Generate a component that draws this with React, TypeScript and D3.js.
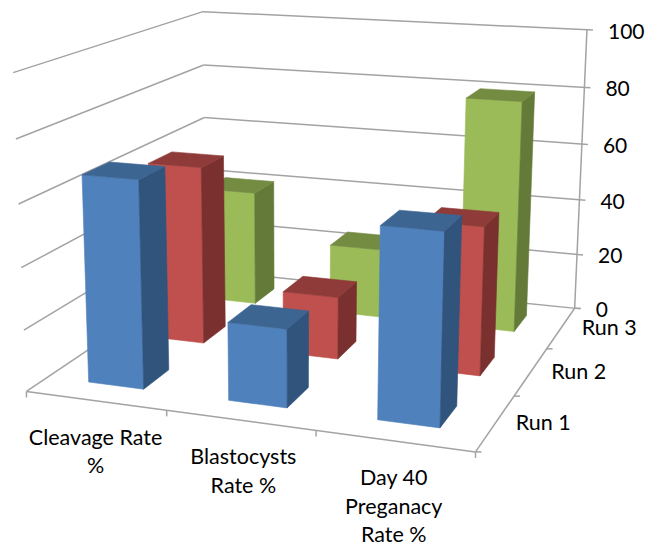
import React from "react";
import * as d3 from "d3";

// Chart content
const categories = [["Cleavage Rate", "%"], ["Blastocysts", "Rate %"], ["Day 40", "Preganacy", "Rate %"]];
const runs = ["Run 1", "Run 2", "Run 3"];
const run1Values = [67, 25, 59.5];
const run2Values = [60.5, 21, 49];
const run3Values = [41, 24.5, 80];
const seriesValues = [run1Values, run2Values, run3Values];
const valueTicks = [0, 20, 40, 60, 80, 100];

const frontColors = ["#4f81bd", "#c0504d", "#9bbb59"];
const topColors = ["#3d6591", "#8f3b39", "#748c42"];
const sideColors = ["#31547d", "#7a302e", "#647a39"];
const axisColor = "#a3a3a3";
const FONT = "Lato, Carlito, Calibri, sans-serif";
const categoryLabelShift = [-1, 2, -2];

type P3 = [number, number, number];
type P2 = [number, number];

// Where the corners of the unit plot box (x, depth, height) land on the page.
const boxCorners: [P3, P2][] = [
  [[0, 0, 0], [27, 392]],
  [[1, 0, 0], [475, 452]],
  [[1, 1, 0], [575, 308]],
  [[0, 1, 0], [206, 270]],
  [[0, 0, 1], [13, 72]],
  [[1, 1, 1], [587, 30]],
  [[0, 1, 1], [203, 12]],
];

function solve(A: number[][], b: number[]): number[] {
  const n = b.length;
  const M = A.map((r, i) => [...r, b[i]]);
  for (let c = 0; c < n; c++) {
    let best = c;
    for (let r = c + 1; r < n; r++) if (Math.abs(M[r][c]) > Math.abs(M[best][c])) best = r;
    [M[c], M[best]] = [M[best], M[c]];
    for (let r = 0; r < n; r++) {
      if (r === c) continue;
      const f = M[r][c] / M[c][c];
      for (let k = c; k <= n; k++) M[r][k] -= f * M[c][k];
    }
  }
  return M.map((r, i) => r[n] / r[i]);
}

// Least-squares camera matrix through the box corners.
function fitCamera(points: [P3, P2][]): number[] {
  const rows: number[][] = [];
  const rhs: number[] = [];
  for (const [[X, Y, Z], [u0, v0]] of points) {
    const u = u0 / 500;
    const v = v0 / 500;
    rows.push([X, Y, Z, 1, 0, 0, 0, 0, -u * X, -u * Y, -u * Z]);
    rhs.push(u);
    rows.push([0, 0, 0, 0, X, Y, Z, 1, -v * X, -v * Y, -v * Z]);
    rhs.push(v);
  }
  const n = 11;
  const AtA = d3.range(n).map((i) => d3.range(n).map((j) => d3.sum(rows, (r) => r[i] * r[j])));
  const Atb = d3.range(n).map((i) => d3.sum(rows, (r, k) => r[i] * rhs[k]));
  return solve(AtA, Atb);
}

const cam = fitCamera(boxCorners);
function project(x: number, y: number, z: number): P2 {
  const w = cam[8] * x + cam[9] * y + cam[10] * z + 1;
  return [
    (500 * (cam[0] * x + cam[1] * y + cam[2] * z + cam[3])) / w,
    (500 * (cam[4] * x + cam[5] * y + cam[6] * z + cam[7])) / w,
  ];
}

const xBand = d3.scaleBand<number>().domain([0, 1, 2]).range([0, 1]).paddingInner(0.6).paddingOuter(0.3);
const depthBand = d3.scaleBand<number>().domain([0, 1, 2]).range([0, 1]).paddingInner(0.6).paddingOuter(0.3);
const height = d3.scaleLinear().domain([0, 100]).range([0, 1]);

const polygon = (pts: P2[]) => d3.line()(pts) + "Z";

function Bar({ cat, run }: { cat: number; run: number }) {
  const x0 = xBand(cat)!;
  const x1 = x0 + xBand.bandwidth();
  const y0 = depthBand(run)!;
  const y1 = y0 + depthBand.bandwidth();
  const z = height(seriesValues[run][cat]);
  const faces: [P2[], string][] = [
    [[project(x0, y0, 0), project(x1, y0, 0), project(x1, y0, z), project(x0, y0, z)], frontColors[run]],
    [[project(x1, y0, 0), project(x1, y1, 0), project(x1, y1, z), project(x1, y0, z)], sideColors[run]],
    [[project(x0, y0, z), project(x1, y0, z), project(x1, y1, z), project(x0, y1, z)], topColors[run]],
  ];
  return (
    <g>
      {faces.map(([pts, fill], i) => (
        <path key={i} d={polygon(pts)} fill={fill} stroke={fill} strokeWidth={0.6} strokeLinejoin="round" />
      ))}
    </g>
  );
}

function Segment({ a, b }: { a: P2; b: P2 }) {
  return <line x1={a[0]} y1={a[1]} x2={b[0]} y2={b[1]} stroke={axisColor} strokeWidth={1.5} />;
}

export default function App() {
  const catEdges = [0, 1, 2, 3].map((i) => i / 3);
  const runEdges = [0, 1, 2, 3].map((i) => i / 3);
  return (
    <svg width={647} height={546} style={{ position: "absolute", left: 0, top: 0, background: "#fff" }} fontFamily={FONT} fill="#000">
      {/* Side and back walls */}
      {valueTicks.map((t) => {
        const z = height(t);
        const end = project(1, 1, z);
        const left = project(0, 1, z);
        const len = Math.hypot(end[0] - left[0], end[1] - left[1]);
        const dx = (end[0] - left[0]) / len;
        const dy = (end[1] - left[1]) / len;
        return (
          <g key={t}>
            <Segment a={project(0, 0, z)} b={left} />
            <Segment a={left} b={[end[0] + dx * 6, end[1] + dy * 6]} />
            <text x={end[0] + 21} y={end[1] + 9} fontSize={21}>
              {t}
            </text>
          </g>
        );
      })}
      <Segment a={project(1, 1, 0)} b={project(1, 1, 1)} />
      {/* Floor edges and their ticks */}
      <Segment a={project(0, 0, 0)} b={project(1, 0, 0)} />
      <Segment a={project(1, 0, 0)} b={project(1, 1, 0)} />
      {catEdges.map((e) => {
        const p = project(e, 0, 0);
        return <Segment key={e} a={p} b={[p[0], p[1] + 6]} />;
      })}
      {runEdges.map((e) => {
        const p = project(1, e, 0);
        return <Segment key={e} a={p} b={[p[0] + 6, p[1]]} />;
      })}
      {/* Bars, farthest row first */}
      {[2, 1, 0].map((run) =>
        [0, 1, 2].map((cat) => <Bar key={`${run}-${cat}`} cat={cat} run={run} />)
      )}
      {/* Category labels */}
      {categories.map((lines, i) => {
        const a = project(i / 3, 0, 0);
        const b = project((i + 1) / 3, 0, 0);
        const cx = (a[0] + b[0]) / 2 + categoryLabelShift[i];
        const cy = (a[1] + b[1]) / 2;
        return (
          <text key={i} textAnchor="middle" fontSize={21.5}>
            {lines.map((line, j) => (
              <tspan key={j} x={cx} y={cy + 44 + j * 28.5}>
                {line}
              </tspan>
            ))}
          </text>
        );
      })}
      {/* Depth labels */}
      {runs.map((label, i) => {
        const a = project(1, i / 3, 0);
        const b = project(1, (i + 1) / 3, 0);
        return (
          <text key={label} x={(a[0] + b[0]) / 2 + 21} y={(a[1] + b[1]) / 2 + 6} fontSize={21.5}>
            {label}
          </text>
        );
      })}
    </svg>
  );
}
